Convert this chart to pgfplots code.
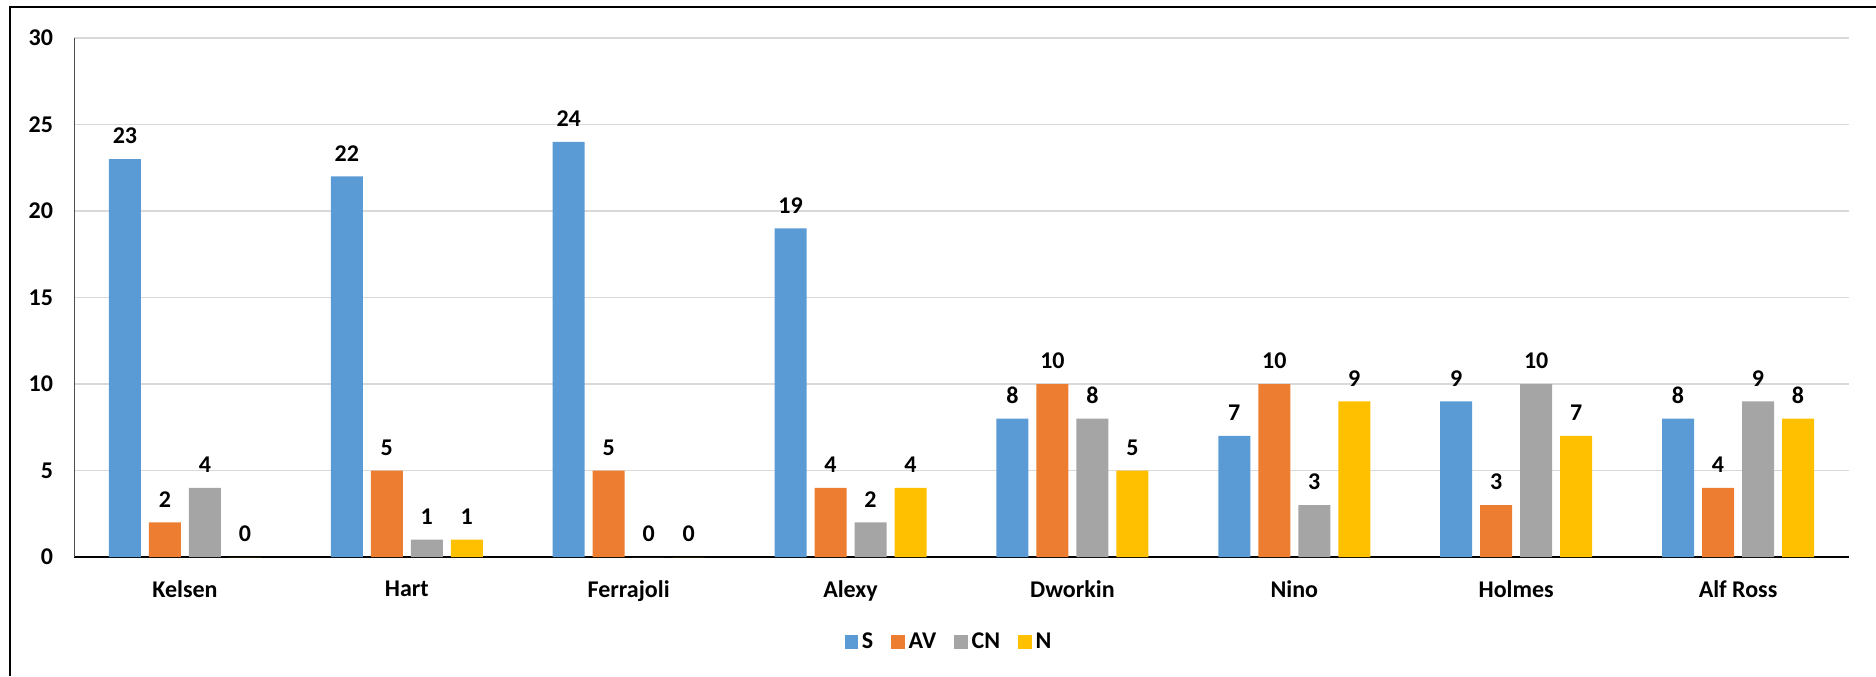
\documentclass[border=0pt]{standalone}
\usepackage{pgfplots}
\pgfplotsset{compat=1.18}
\usepackage{pgfplotstable}
\usepackage{fontspec}
\setmainfont{Carlito}
\definecolor{cS}{HTML}{5B9BD5}
\definecolor{cAV}{HTML}{ED7D31}
\definecolor{cCN}{HTML}{A5A5A5}
\definecolor{cN}{HTML}{FFC000}
\definecolor{gridc}{HTML}{D9D9D9}
\pgfplotstableread{
x S AV CN N
0 23 2 4 0
1 22 5 1 1
2 24 5 0 0
3 19 4 2 4
4 8 10 8 5
5 7 10 3 9
6 9 3 10 7
7 8 4 9 8
}\datatab
\begin{document}
\begin{tikzpicture}
\useasboundingbox (0,0) rectangle (938pt,338pt);
\draw[line width=1pt, black] (5pt,0) -- (5pt,334.5pt) -- (938pt,334.5pt);
\begin{axis}[
  at={(37pt,59.5pt)}, anchor=south west,
  scale only axis, width=887.5pt, height=259.5pt,
  ybar=4pt, bar width=16pt,
  xmin=-0.5, xmax=7.5, ymin=0, ymax=30,
  ytick={0,5,...,30},
  xtick=data,
  xticklabels={Kelsen,Hart,Ferrajoli,Alexy,Dworkin,Nino,Holmes,Alf Ross},
  axis x line*=bottom, axis y line*=left,
  x axis line style={black, line width=0.9pt, -},
  y axis line style={black!70, line width=0.5pt, -},
  ymajorgrids, grid style={gridc, line width=0.8pt},
  major tick length=0pt,
  /pgf/number format/assume math mode=true,
  tick label style={font=\fontsize{12}{14}\selectfont\bfseries, black},
  yticklabel style={xshift=-7pt},
  xticklabel style={yshift=-8.5pt},
  nodes near coords,
  every node near coord/.append style={font=\fontsize{12}{14}\selectfont\bfseries, black, anchor=south, yshift=4pt},
  legend style={at={(0.4935,-0.1638)}, anchor=center, draw=none, fill=none,
    legend columns=-1, font=\fontsize{12}{14}\selectfont\bfseries,
    /tikz/every even column/.append style={column sep=7pt},
    legend cell align=left},
  legend image code/.code={\fill[#1] (0pt,-3.3pt) rectangle (6.7pt,3.4pt);},
]
\addplot[fill=cS, draw=none] table[x=x, y=S] {\datatab};
\addplot[fill=cAV, draw=none] table[x=x, y=AV] {\datatab};
\addplot[fill=cCN, draw=none] table[x=x, y=CN] {\datatab};
\addplot[fill=cN, draw=none] table[x=x, y=N] {\datatab};
\legend{S,AV,CN,N}
\end{axis}
\end{tikzpicture}
\end{document}
